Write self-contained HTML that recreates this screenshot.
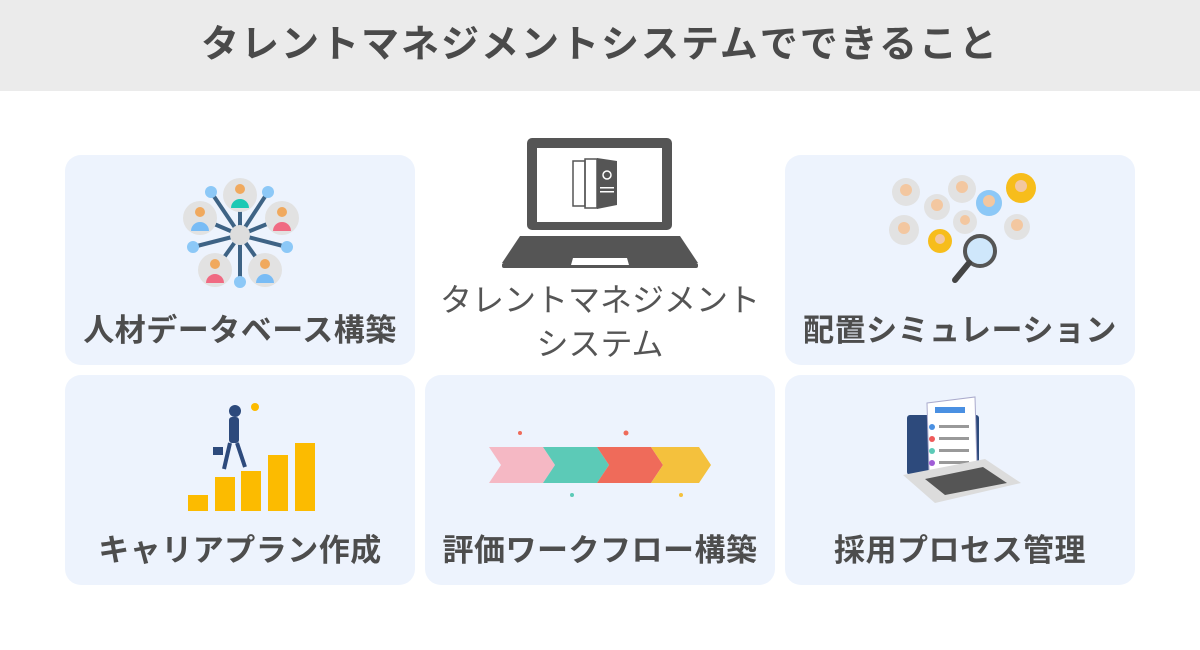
<!DOCTYPE html>
<html><head><meta charset="utf-8"><style>
body{margin:0;width:1200px;height:650px;background:#fff;font-family:"Liberation Sans","Noto Sans CJK JP",sans-serif;position:relative;overflow:hidden}
.hdr{position:absolute;left:0;top:0;width:1200px;height:91px;background:#ebebeb;text-align:center;line-height:91px;font-size:38px;font-weight:bold;color:#4a4a4a;letter-spacing:2px}
.card{position:absolute;width:350px;height:210px;background:#edf3fd;border-radius:16px}
.lbl{position:absolute;left:0;width:100%;text-align:center;font-size:31px;font-weight:bold;color:#4d4d4d;top:156px;line-height:40px;letter-spacing:0.5px}
svg{position:absolute}
.ct{position:absolute;left:420px;width:360px;text-align:center;font-size:32px;color:#555;line-height:44px}
</style></head><body>
<div class="hdr">タレントマネジメントシステムでできること</div>

<div class="card" style="left:65px;top:155px">
<svg width="350" height="150" style="left:0;top:0">
<g stroke="#3e6385" stroke-width="4">
<line x1="175" y1="80" x2="175" y2="127"/><line x1="175" y1="80" x2="146" y2="37"/><line x1="175" y1="80" x2="203" y2="37"/>
<line x1="175" y1="80" x2="128" y2="92"/><line x1="175" y1="80" x2="222" y2="92"/>
<line x1="175" y1="80" x2="135" y2="63"/><line x1="175" y1="80" x2="217" y2="63"/>
<line x1="175" y1="80" x2="150" y2="115"/><line x1="175" y1="80" x2="200" y2="115"/><line x1="175" y1="80" x2="175" y2="40"/>
</g>
<g fill="#8cc8f7"><circle cx="146" cy="37" r="6"/><circle cx="203" cy="37" r="6"/><circle cx="128" cy="92" r="6"/><circle cx="222" cy="92" r="6"/><circle cx="175" cy="127" r="6"/></g>
<circle cx="175" cy="80" r="10" fill="#ddd"/>
<g fill="#e2e2e2"><circle cx="175" cy="40" r="17"/><circle cx="135" cy="63" r="17"/><circle cx="217" cy="63" r="17"/><circle cx="150" cy="115" r="17"/><circle cx="200" cy="115" r="17"/></g>
<g fill="#f0a95e"><circle cx="175" cy="34" r="5"/><circle cx="135" cy="57" r="5"/><circle cx="217" cy="57" r="5"/><circle cx="150" cy="109" r="5"/><circle cx="200" cy="109" r="5"/></g>
<path d="M166 53a9 9 0 0 1 18 0z" fill="#1cc9b4"/><path d="M126 76a9 9 0 0 1 18 0z" fill="#79bcf5"/><path d="M208 76a9 9 0 0 1 18 0z" fill="#f06a82"/><path d="M141 128a9 9 0 0 1 18 0z" fill="#f06a82"/><path d="M191 128a9 9 0 0 1 18 0z" fill="#79bcf5"/>
</svg>
<div class="lbl">人材データベース構築</div></div>

<svg width="200" height="140" style="left:500px;top:135px">
<rect x="27" y="3" width="145" height="92" rx="5" fill="#555"/>
<rect x="37" y="13" width="125" height="74" fill="#fff"/>
<rect x="73" y="26" width="12" height="45" fill="none" stroke="#555" stroke-width="1.5"/>
<rect x="85" y="24" width="12" height="49" fill="none" stroke="#555" stroke-width="1.5"/>
<polygon points="97,23 117,26 117,70 97,74" fill="#555"/>
<circle cx="107" cy="40" r="4" fill="none" stroke="#fff" stroke-width="1.5"/>
<rect x="100" y="52" width="14" height="1.5" fill="#fff"/><rect x="100" y="56" width="14" height="1.5" fill="#fff"/>
<polygon points="20,101 180,101 198,128 2,128" fill="#555"/>
<rect x="2" y="128" width="196" height="5" rx="2" fill="#555"/>
<polygon points="73,123 127,123 129,130 71,130" fill="#fff"/>
</svg>
<div class="ct" style="top:278px">タレントマネジメント</div>
<div class="ct" style="top:322px">システム</div>

<div class="card" style="left:785px;top:155px">
<svg width="350" height="150" style="left:0;top:0">
<g fill="#e2e2e2"><circle cx="121" cy="37" r="14"/><circle cx="152" cy="52" r="13"/><circle cx="177" cy="34" r="14"/><circle cx="204" cy="48" r="13"/><circle cx="119" cy="75" r="15"/><circle cx="180" cy="67" r="12"/><circle cx="232" cy="72" r="13"/></g>
<circle cx="236" cy="33" r="15" fill="#f7bd1b"/><circle cx="155" cy="86" r="12" fill="#f7bd1b"/><circle cx="204" cy="48" r="13" fill="#8cc8f7"/>
<g fill="#f3c7a0"><circle cx="121" cy="35" r="6"/><circle cx="152" cy="50" r="6"/><circle cx="177" cy="32" r="6"/><circle cx="204" cy="46" r="6"/><circle cx="236" cy="31" r="6"/><circle cx="119" cy="73" r="6"/><circle cx="180" cy="65" r="5"/><circle cx="232" cy="70" r="6"/><circle cx="155" cy="84" r="5"/></g>
<circle cx="195" cy="96" r="15" fill="#cfe7fb" stroke="#555" stroke-width="4"/>
<line x1="184" y1="108" x2="170" y2="125" stroke="#444" stroke-width="6" stroke-linecap="round"/>
</svg>
<div class="lbl">配置シミュレーション</div></div>

<div class="card" style="left:65px;top:375px">
<svg width="350" height="150" style="left:0;top:0">
<g fill="#fcbb00"><rect x="123" y="120" width="20" height="16"/><rect x="150" y="102" width="20" height="34"/><rect x="176" y="96" width="20" height="40"/><rect x="203" y="80" width="20" height="56"/><rect x="230" y="68" width="20" height="68"/></g>
<rect x="164" y="42" width="10" height="26" rx="3" fill="#2d4a7c"/><circle cx="170" cy="36" r="6" fill="#2d4a7c"/>
<path d="M165 68l-6 26M172 68l8 24" stroke="#2d4a7c" stroke-width="4"/>
<rect x="148" y="72" width="10" height="8" fill="#2d4a7c"/>
<circle cx="190" cy="32" r="4" fill="#fcbb00"/>
</svg>
<div class="lbl">キャリアプラン作成</div></div>

<div class="card" style="left:425px;top:375px">
<svg width="350" height="150" style="left:0;top:0">
<polygon points="64,72 118,72 130,90 118,108 64,108 76,90" fill="#f5b8c4"/>
<polygon points="118,72 172,72 184,90 172,108 118,108 130,90" fill="#5ccab7"/>
<polygon points="172,72 226,72 238,90 226,108 172,108 184,90" fill="#ef6b5a"/>
<polygon points="226,72 274,72 286,90 274,108 226,108 238,90" fill="#f4c13d"/>
<circle cx="95" cy="58" r="2" fill="#ef6b5a"/><circle cx="147" cy="120" r="2" fill="#5ccab7"/><circle cx="201" cy="58" r="2.5" fill="#ef6b5a"/><circle cx="256" cy="120" r="2" fill="#f4c13d"/>
</svg>
<div class="lbl">評価ワークフロー構築</div></div>

<div class="card" style="left:785px;top:375px">
<svg width="350" height="150" style="left:0;top:0">
<rect x="122" y="40" width="72" height="60" rx="3" fill="#2d4a7c"/>
<polygon points="142,28 190,22 192,92 144,96" fill="#fff" stroke="#aac" stroke-width="1"/>
<rect x="150" y="32" width="30" height="6" fill="#4a90e2"/>
<g fill="#4a90e2"><circle cx="147" cy="52" r="3"/><circle cx="147" cy="64" r="3" fill="#ef5a5a"/><circle cx="147" cy="76" r="3" fill="#5ccab7"/><circle cx="147" cy="88" r="3" fill="#a05cd6"/></g>
<g fill="#999"><rect x="154" y="50" width="30" height="3"/><rect x="154" y="62" width="30" height="3"/><rect x="154" y="74" width="30" height="3"/><rect x="154" y="86" width="30" height="3"/></g>
<polygon points="118,100 200,84 236,108 150,128" fill="#dcdcdc"/>
<polygon points="140,104 198,92 222,108 160,120" fill="#555"/>
</svg>
<div class="lbl">採用プロセス管理</div></div>
</body></html>
